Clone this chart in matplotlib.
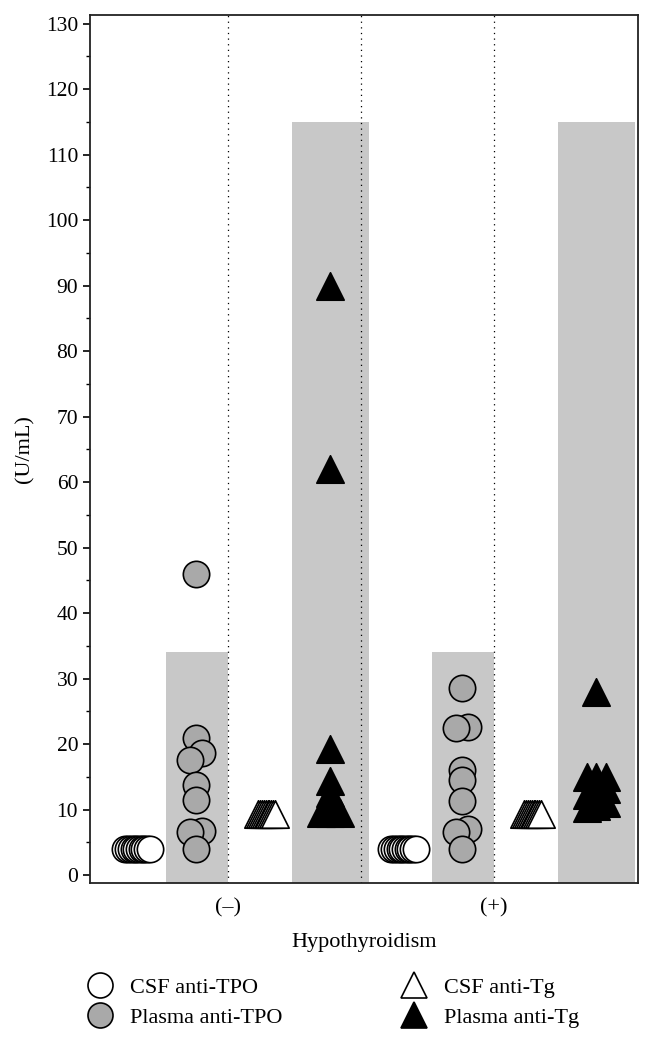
import matplotlib
matplotlib.use("Agg")
import matplotlib.pyplot as plt
from matplotlib.lines import Line2D
from matplotlib.ticker import MultipleLocator
import numpy as np

plt.rcParams['font.family'] = ['Liberation Serif', 'DejaVu Serif']

# groups on the x axis
groups = ["(\u2013)", "(+)"]

# reference ranges (U/mL)
tpo_cutoff = 34
tg_cutoff = 115

# hypothyroidism (-)
csf_tpo_neg = [4.0] * 10
plasma_tpo_neg = [46.0, 21.0, 18.6, 17.5, 13.8, 11.4, 6.8, 6.5, 3.9]
csf_tg_neg = [9.3] * 10
plasma_tg_neg = [90.0, 62.0, 19.2, 14.3, 12.5, 11.0, 9.5, 9.5, 9.5]

# hypothyroidism (+)
csf_tpo_pos = [4.0] * 10
plasma_tpo_pos = [28.5, 22.6, 22.4, 16.0, 14.5, 11.3, 7.1, 6.5, 4.0]
csf_tg_pos = [9.3] * 10
plasma_tg_pos = [28.0, 15.0, 15.0, 15.0, 13.2, 12.8, 12.2, 11.0, 10.5, 10.3]

data = {
    "csf_tpo": [csf_tpo_neg, csf_tpo_pos],
    "plasma_tpo": [plasma_tpo_neg, plasma_tpo_pos],
    "csf_tg": [csf_tg_neg, csf_tg_pos],
    "plasma_tg": [plasma_tg_neg, plasma_tg_pos],
}


def dodge(values, step, tol=1.2):
    # spread points with (nearly) equal values sideways
    values = np.asarray(values, dtype=float)
    order = np.argsort(values, kind="stable")
    offsets = np.zeros(len(values))
    clusters = []
    for idx in order:
        if clusters and values[idx] - values[clusters[-1][0]] <= tol:
            clusters[-1].append(idx)
        else:
            clusters.append([idx])
    for c in clusters:
        n = len(c)
        for k, idx in enumerate(c):
            offsets[idx] = (k - (n - 1) / 2) * step
    return offsets


fig = plt.figure(figsize=(6.52, 10.45), dpi=100)
ax = fig.add_axes([0.138, 0.155, 0.8405, 0.8305])

band_color = "#c8c8c8"
tpo_pos, tpo_w = -0.117, 0.234
tg_pos, tg_w = 0.385, 0.29

# name: (offset, step, marker, facecolor, size)
series = {
    "csf_tpo": (-0.34, 0.0102, "o", "white", 360),
    "plasma_tpo": (-0.12, 0.045, "o", "#a9a9a9", 360),
    "csf_tg": (0.145, 0.007, "^", "white", 390),
    "plasma_tg": (0.385, 0.035, "^", "black", 390),
}

for g in range(len(groups)):
    ax.bar(g + tpo_pos, tpo_cutoff + 5, tpo_w, bottom=-5, color=band_color, zorder=1)
    ax.bar(g + tg_pos, tg_cutoff + 5, tg_w, bottom=-5, color=band_color, zorder=1)

for x in [0, 0.5, 1]:
    ax.axvline(x, color="black", linestyle=(0, (1, 3.5)), linewidth=0.9, zorder=2)

for name, (off, step, marker, fc, size) in series.items():
    for g in range(len(groups)):
        vals = np.array(data[name][g])
        xs = g + off + dodge(vals, step)
        ax.scatter(xs, vals, s=size, marker=marker, facecolor=fc,
                   edgecolor="black", linewidth=1.2, zorder=3)

ax.set_xlim(-0.519, 1.541)
ax.set_ylim(-1.22, 131.3)
ax.set_xticks(range(len(groups)), labels=groups)
ax.yaxis.set_major_locator(MultipleLocator(10))
ax.yaxis.set_minor_locator(MultipleLocator(5))
ax.tick_params(axis="y", which="major", length=5, width=1.2, labelsize=15.5, direction="out")
ax.tick_params(axis="y", which="minor", length=3, width=1.0, direction="out")
ax.tick_params(axis="x", length=0, labelsize=16, pad=11)
for sp in ax.spines.values():
    sp.set_linewidth(1.3)
    sp.set_color("#222222")

ax.set_ylabel("(U/mL)", fontsize=16, labelpad=8)
ax.set_xlabel("Hypothyroidism", fontsize=16, labelpad=11)

handles = [
    Line2D([], [], ls="", marker="o", markersize=18, mfc="white", mec="black", mew=1.2),
    Line2D([], [], ls="", marker="o", markersize=18, mfc="#a9a9a9", mec="black", mew=1.2),
    Line2D([], [], ls="", marker="^", markersize=19, mfc="white", mec="black", mew=1.2),
    Line2D([], [], ls="", marker="^", markersize=19, mfc="black", mec="black", mew=1.2),
]
labels = ["CSF anti-TPO", "Plasma anti-TPO", "CSF anti-Tg", "Plasma anti-Tg"]
fig.legend(handles, labels, ncol=2, loc="upper left", bbox_to_anchor=(0.103, 0.0836),
           frameon=False, fontsize=16, handlelength=1.2, handletextpad=0.75,
           columnspacing=5.3, labelspacing=0.4, borderpad=0.4)

plt.savefig("out.png", dpi=100)
